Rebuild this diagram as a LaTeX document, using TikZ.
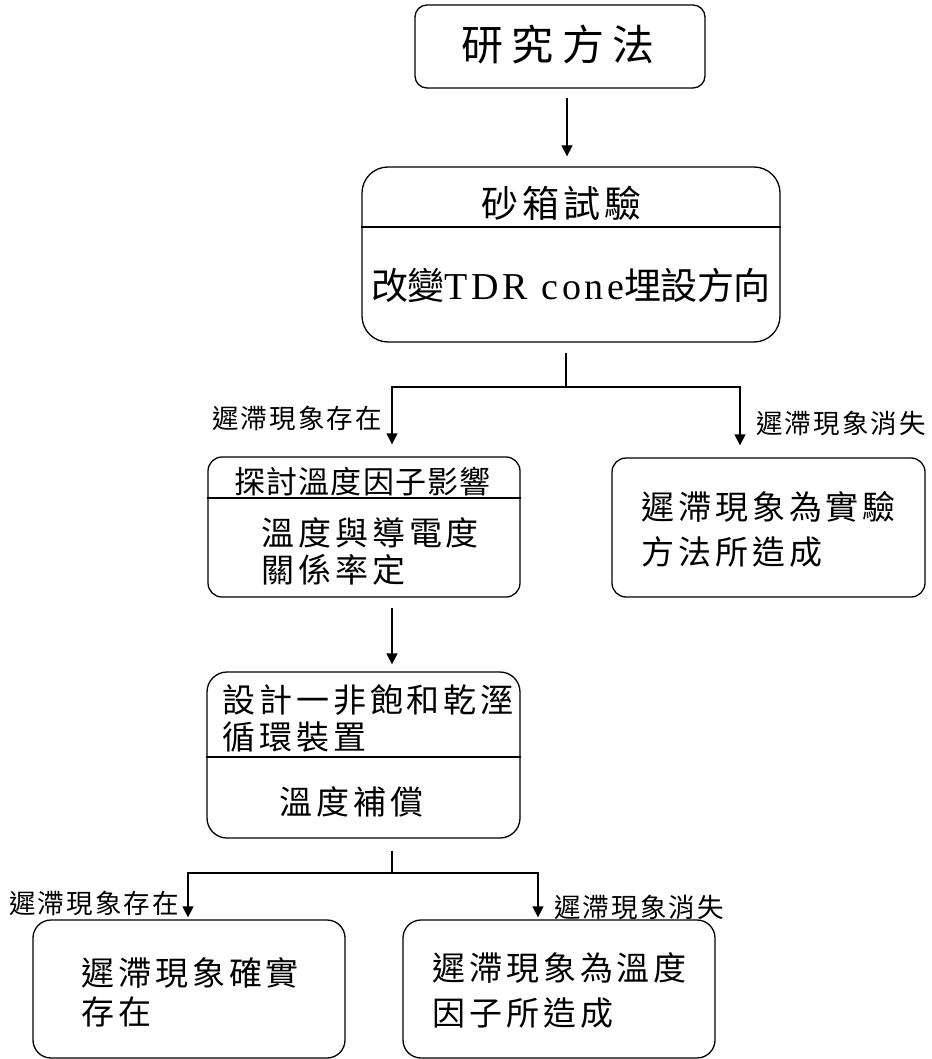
\documentclass[tikz,border=0pt]{standalone}
\usepackage{fontspec}
\setmainfont{Noto Sans CJK TC}
\newfontfamily\latf{Liberation Serif}
\usetikzlibrary{arrows.meta,calc}
\newcommand{\fz}[3]{\fontsize{#1}{#2}\selectfont\addfontfeature{LetterSpace=#3}}
\begin{document}
\begin{tikzpicture}[x=1pt,y=-1pt,
  ln/.style={line width=1.3pt},
  arr/.style={ln,-{Triangle[length=11pt,width=11pt]}},
  box/.style={draw,line width=1.3pt,rounded corners=#1,inner sep=0pt},
  txt/.style={inner sep=0pt,anchor=west,align=left},
  lbl/.style={txt,font={\fz{26.5}{28}{8}}},
  body/.style={txt,font={\fz{33}{#1}{12}}}]
\useasboundingbox (0,0) rectangle (931,1059);
% boxes
\node[box=12pt,minimum width=290pt,minimum height=83pt] (top) at (560,46.5) {};
\node[box=26pt,minimum width=418pt,minimum height=175pt] (sand) at (571,254.5) {};
\node[box=14pt,minimum width=312pt,minimum height=140pt] (temp) at (364,527) {};
\node[box=14pt,minimum width=313pt,minimum height=139pt] (exp) at (768.5,527.5) {};
\node[box=20pt,minimum width=313pt,minimum height=166pt] (dev) at (363.5,755) {};
\node[box=18pt,minimum width=312pt,minimum height=138pt] (real) at (189,989) {};
\node[box=18pt,minimum width=312pt,minimum height=138pt] (fact) at (559,989) {};
% dividers
\draw[ln] (sand.west |- 0,227) -- (sand.east |- 0,227);
\draw[ln] (temp.west |- 0,498) -- (temp.east |- 0,498);
\draw[ln] (dev.west |- 0,757) -- (dev.east |- 0,757);
% texts
\node[txt,font={\fz{42}{44}{20}}] (t0) at (461,45) {研究方法};
\node[txt,font={\fz{37}{39}{11}}] (t1) at (481,203) {砂箱試驗};
\node[txt,font={\fz{37}{39}{-2}}] (t2) at (371,285) {改變{\latf\fontsize{38}{40}\selectfont\addfontfeature{LetterSpace=10}TDR cone}埋設方向};
\node[txt,font={\fz{31}{33}{4}}] (t3) at (234,482) {探討溫度因子影響};
\node[body=37] (t4) at (261,551.5) {溫度與導電度\\關係率定};
\node[body=45] (t5) at (641,529.5) {遲滯現象為實驗\\方法所造成};
\node[body=37] (t6) at (222,718.5) {設計一非飽和乾溼\\循環裝置};
\node[body=37] (t7) at (279,802) {溫度補償};
\node[body=39] (t8) at (81,992.5) {遲滯現象確實\\存在};
\node[body=45] (t9) at (432,990.5) {遲滯現象為溫度\\因子所造成};
\node[lbl] (l1) at (212,418) {遲滯現象存在};
\node[lbl] (l2) at (756,423) {遲滯現象消失};
\node[lbl] (l3) at (9,903) {遲滯現象存在};
\node[lbl] (l4) at (554,907) {遲滯現象消失};
% connectors
\coordinate (j1) at (566,387);
\coordinate (j2) at (392,873);
\draw[arr,shorten <=9pt,shorten >=10pt] (top.south -| 567,0) -- (sand.north -| 567,0);
\draw[ln,shorten <=10pt] (sand.south -| j1) -- (j1);
\draw[arr,shorten >=12pt] (j1) -| (temp.north -| 392,0);
\draw[arr,shorten >=12pt] (j1) -| (exp.north -| 740,0);
\draw[arr,shorten <=10pt,shorten >=7pt] (temp.south -| 392,0) -- (dev.north -| 392,0);
\draw[ln,shorten <=12pt] (dev.south -| j2) -- (j2);
\draw[arr,shorten >=2pt] (j2) -| (real.north -| 188,0);
\draw[arr,shorten >=2pt] (j2) -| (fact.north -| 538,0);
\end{tikzpicture}
\end{document}
